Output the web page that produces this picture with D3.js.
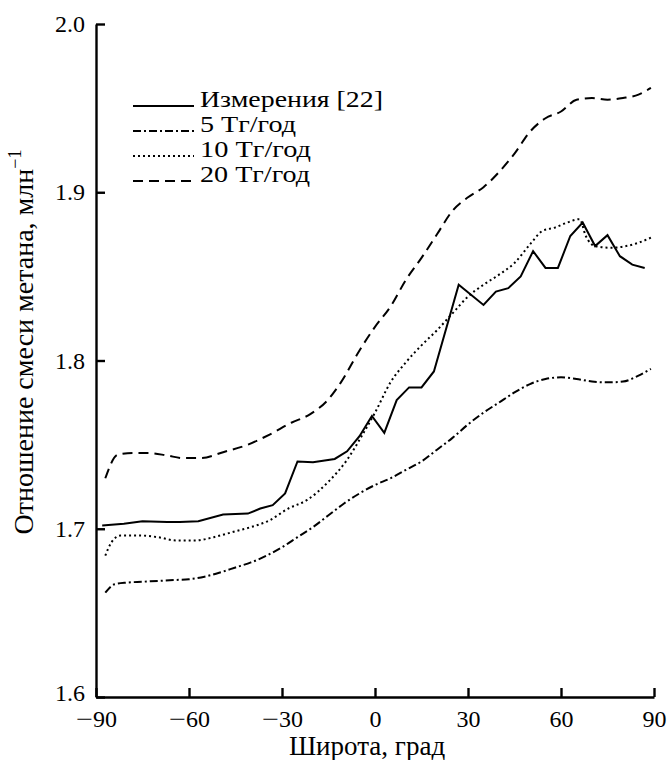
<!DOCTYPE html>
<html>
<head>
<meta charset="utf-8">
<script src="https://cdn.jsdelivr.net/npm/d3@7/dist/d3.min.js"></script>
<style>
  body { margin: 0; background: #fff; }
</style>
</head>
<body>
<div id="chart"></div>
<script>
// Latitude, deg and CH4 mixing ratio, ppm
const measLat = [-88, -81, -75, -67, -63, -57, -49, -41, -37, -33, -29, -25, -20, -13, -9, -5, -1, 3, 7, 11, 15, 19, 27, 35, 39, 43, 47, 51, 55, 59, 63, 67, 71, 75, 79, 83, 87];
const measVal = [1.702, 1.703, 1.7045, 1.704, 1.704, 1.7045, 1.7085, 1.709, 1.712, 1.714, 1.721, 1.740, 1.7395, 1.7415, 1.746, 1.755, 1.767, 1.757, 1.7765, 1.784, 1.784, 1.7935, 1.845, 1.833, 1.841, 1.843, 1.850, 1.865, 1.855, 1.855, 1.874, 1.882, 1.868, 1.8745, 1.862, 1.857, 1.855];

const m5Lat = [-87, -84, -80, -75, -70, -65, -60, -55, -50, -45, -40, -35, -30, -25, -20, -15, -10, -5, 0, 5, 10, 15, 20, 25, 30, 35, 40, 45, 50, 55, 60, 65, 70, 75, 80, 85, 89];
const m5Val = [1.662, 1.667, 1.668, 1.6685, 1.669, 1.6695, 1.670, 1.6715, 1.674, 1.677, 1.680, 1.684, 1.689, 1.695, 1.701, 1.708, 1.715, 1.721, 1.726, 1.730, 1.735, 1.740, 1.747, 1.754, 1.762, 1.769, 1.775, 1.781, 1.786, 1.789, 1.790, 1.789, 1.7875, 1.787, 1.7875, 1.791, 1.795];

const m10Lat = [-87, -85, -82, -76, -70, -64, -58, -52, -46, -40, -34, -28, -22, -15, -9, -4, 0, 5, 10, 15, 20, 25, 30, 35, 40, 45, 50, 54, 58, 62, 66, 68, 71, 76, 81, 85, 89];
const m10Val = [1.684, 1.692, 1.696, 1.696, 1.695, 1.693, 1.693, 1.695, 1.698, 1.701, 1.705, 1.712, 1.717, 1.728, 1.741, 1.756, 1.769, 1.787, 1.799, 1.809, 1.818, 1.828, 1.838, 1.845, 1.851, 1.858, 1.869, 1.877, 1.879, 1.882, 1.884, 1.874, 1.868, 1.867, 1.868, 1.870, 1.873];

const m20Lat = [-87, -83, -78, -73, -67, -62, -56, -49, -41, -34, -27, -21, -15, -11, -5, 0, 5, 10, 15, 20, 25, 30, 35, 40, 45, 50, 55, 60, 65, 70, 75, 80, 85, 89];
const m20Val = [1.730, 1.744, 1.745, 1.745, 1.7435, 1.742, 1.742, 1.7455, 1.750, 1.756, 1.763, 1.768, 1.777, 1.787, 1.806, 1.820, 1.832, 1.848, 1.861, 1.875, 1.889, 1.897, 1.903, 1.912, 1.923, 1.936, 1.944, 1.948, 1.955, 1.956, 1.955, 1.956, 1.958, 1.962];

const xTicks = [-90, -60, -30, 0, 30, 60, 90];
const yTicks = [1.6, 1.7, 1.8, 1.9, 2.0];
const legendLabels = ["Измерения [22]", "5 Тг/год", "10 Тг/год", "20 Тг/год"];

const width = 668;
const height = 760;
const margin = {top: 24, right: 14, bottom: 63, left: 96};
const serif = "Liberation Serif";

const x = d3.scaleLinear()
    .domain([-90, 90])
    .range([margin.left, width - margin.right]);

const y = d3.scaleLinear()
    .domain([1.6, 2.0])
    .range([height - margin.bottom, margin.top]);

const svg = d3.select('#chart')
    .append('svg')
    .attr('width', width)
    .attr('height', height)
    .style('font-family', serif);

// axes, ticks point inward
const xAxis = svg.append('g')
    .attr('transform', `translate(0,${height - margin.bottom})`)
    .call(d3.axisBottom(x).tickValues(xTicks).tickSizeInner(-9).tickSizeOuter(0).tickPadding(13));

const yAxis = svg.append('g')
    .attr('transform', `translate(${margin.left},0)`)
    .call(d3.axisLeft(y).tickValues(yTicks).tickFormat(d3.format('.1f')).tickSizeInner(-9).tickSizeOuter(0).tickPadding(11));

[xAxis, yAxis].forEach(g => {
  g.attr('font-family', null).attr('font-size', null);
  g.select('.domain').attr('stroke', '#000').attr('stroke-width', 2.4);
  g.selectAll('.tick line').attr('stroke', '#000').attr('stroke-width', 2.4);
  g.selectAll('.tick text').attr('fill', '#000')
    .style('font-family', serif).style('font-size', '24px');
});

// bottom label sits a little higher, clear of the x labels
yAxis.selectAll('.tick text').filter(d => d === 1.6).attr('y', -4);

// the printed minus sign is long: draw it as its own stretched piece
xAxis.selectAll('.tick text').each(function(d) {
  if (d >= 0) return;
  const t = d3.select(this).text(null);
  t.append('tspan').attr('textLength', 17).attr('lengthAdjust', 'spacingAndGlyphs').text('−');
  t.append('tspan').attr('dx', 0).text(Math.abs(d));
});

// axis titles
svg.append('text')
    .attr('x', 367)
    .attr('y', 755)
    .attr('text-anchor', 'middle')
    .style('font-size', '27px')
    .text('Широта, град');

const yTitle = svg.append('text')
    .attr('transform', 'translate(33,342) rotate(-90)')
    .attr('text-anchor', 'middle')
    .style('font-size', '28px');
yTitle.append('tspan').text('Отношение смеси метана, млн');
yTitle.append('tspan').attr('dy', -12).style('font-size', '18px').text('−1');

// series
const series = [
  {lat: measLat, val: measVal, dash: null, curve: d3.curveLinear},
  {lat: m5Lat, val: m5Val, dash: '8,3,2,3', curve: d3.curveMonotoneX},
  {lat: m10Lat, val: m10Val, dash: '2,3', curve: d3.curveMonotoneX},
  {lat: m20Lat, val: m20Val, dash: '10,6', curve: d3.curveMonotoneX}
];

series.forEach(s => {
  const line = d3.line()
      .x(i => x(s.lat[i]))
      .y(i => y(s.val[i]))
      .curve(s.curve);
  svg.append('path')
      .datum(d3.range(s.lat.length))
      .attr('d', line)
      .attr('fill', 'none')
      .attr('stroke', '#000')
      .attr('stroke-width', 2)
      .attr('stroke-dasharray', s.dash);
});

// legend (text widened to the printed widths)
const legendWidths = [183, 96, 111, 110];
const legend = svg.append('g');
series.forEach((s, i) => {
  const ly = 106 + i * 25;
  legend.append('line')
      .attr('x1', 133).attr('x2', 194)
      .attr('y1', ly).attr('y2', ly)
      .attr('stroke', '#000')
      .attr('stroke-width', 2)
      .attr('stroke-dasharray', s.dash);
  legend.append('text')
      .attr('x', 200)
      .attr('y', ly + 1)
      .attr('textLength', legendWidths[i])
      .attr('lengthAdjust', 'spacingAndGlyphs')
      .style('font-size', '24px')
      .text(legendLabels[i]);
});
</script>
</body>
</html>
